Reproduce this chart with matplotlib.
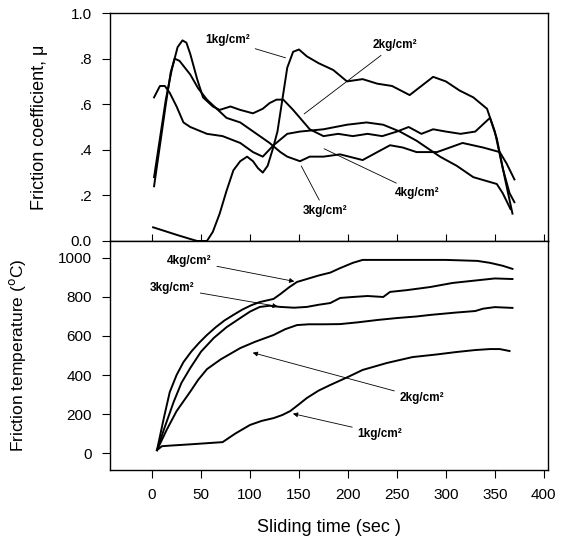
import matplotlib
matplotlib.use('Agg')
import matplotlib.pyplot as plt

plt.rcParams['font.family'] = ['Liberation Sans', 'DejaVu Sans']

# friction coefficient vs sliding time
t_mu_1 = [1, 12, 25, 38, 46, 56, 62, 69, 76, 83, 90, 97, 103, 108, 113, 118, 123, 128, 133, 138,
          144, 150, 158, 170, 185, 199, 215, 230, 245, 263, 275, 287, 300, 314, 328, 342, 350, 358, 365, 370]
mu_1 = [0.06, 0.045, 0.027, 0.01, 0.0, 0.0, 0.04, 0.12, 0.22, 0.31, 0.35, 0.37, 0.35, 0.32, 0.30, 0.33,
        0.40, 0.48, 0.62, 0.76, 0.83, 0.84, 0.81, 0.78, 0.75, 0.70, 0.71, 0.69, 0.68, 0.64, 0.68, 0.72,
        0.70, 0.66, 0.63, 0.58, 0.48, 0.32, 0.21, 0.17]

t_mu_2 = [2, 8, 14, 20, 26, 31, 35, 39, 46, 52, 62, 69, 80, 90, 103, 113, 120, 127, 134, 144, 151, 161,
          175, 190, 205, 220, 235, 250, 262, 275, 287, 300, 315, 330, 340, 345, 352, 360, 368]
mu_2 = [0.28, 0.45, 0.62, 0.75, 0.85, 0.88, 0.87, 0.82, 0.71, 0.63, 0.59, 0.575, 0.59, 0.575, 0.56,
        0.58, 0.605, 0.62, 0.62, 0.575, 0.54, 0.49, 0.46, 0.47, 0.46, 0.47, 0.46, 0.48, 0.50, 0.47,
        0.49, 0.48, 0.47, 0.48, 0.52, 0.54, 0.45, 0.28, 0.12]

t_mu_3 = [2, 8, 14, 19, 23, 28, 39, 47, 56, 66, 76, 90, 100, 110, 120, 131, 138, 151, 161, 175, 192,
          215, 230, 243, 256, 270, 291, 317, 338, 355, 362, 370]
mu_3 = [0.24, 0.42, 0.60, 0.74, 0.80, 0.79, 0.73, 0.67, 0.62, 0.58, 0.54, 0.52, 0.49, 0.46, 0.43,
        0.39, 0.37, 0.35, 0.37, 0.37, 0.38, 0.355, 0.39, 0.42, 0.41, 0.39, 0.39, 0.43, 0.41, 0.39,
        0.34, 0.27]

t_mu_4 = [2, 8, 13, 18, 25, 32, 39, 56, 72, 90, 103, 113, 124, 138, 151, 175, 199, 219, 236, 253,
          270, 294, 311, 328, 352, 358, 366]
mu_4 = [0.63, 0.68, 0.68, 0.65, 0.59, 0.52, 0.50, 0.47, 0.46, 0.43, 0.39, 0.37, 0.42, 0.47, 0.48,
        0.49, 0.51, 0.52, 0.51, 0.48, 0.44, 0.37, 0.33, 0.28, 0.25, 0.21, 0.14]

# friction temperature vs sliding time
t_T_1 = [5, 10, 18, 40, 72, 85, 100, 112, 124, 133, 141, 150, 158, 170, 182, 200, 215, 240, 266,
         290, 311, 330, 345, 355, 365]
T_1 = [15, 35, 38, 45, 56, 100, 144, 165, 179, 195, 215, 250, 282, 320, 349, 390, 426, 462, 492,
       505, 518, 528, 533, 533, 523]

t_T_2 = [5, 15, 25, 32, 39, 47, 56, 70, 90, 105, 124, 136, 148, 160, 175, 192, 210, 230, 250, 270,
         284, 310, 330, 338, 350, 368]
T_2 = [15, 120, 215, 265, 315, 375, 430, 480, 538, 570, 605, 635, 656, 660, 660, 661, 670, 682, 692,
       700, 708, 720, 728, 740, 748, 744]

t_T_3 = [5, 12, 22, 30, 39, 50, 63, 76, 90, 100, 110, 120, 131, 145, 158, 170, 182, 192, 205, 220,
         236, 243, 260, 284, 307, 335, 350, 368]
T_3 = [15, 120, 262, 360, 436, 520, 590, 645, 692, 725, 749, 755, 749, 745, 749, 760, 769, 795, 800,
       805, 800, 826, 835, 851, 872, 887, 895, 892]

t_T_4 = [5, 12, 18, 25, 32, 40, 48, 56, 65, 74, 83, 92, 101, 110, 117, 124, 131, 140, 148, 160, 170,
         182, 192, 205, 215, 230, 260, 300, 332, 345, 358, 368]
T_4 = [15, 180, 312, 400, 466, 520, 565, 605, 645, 680, 708, 735, 757, 774, 782, 790, 815, 850, 877,
       895, 910, 925, 948, 975, 990, 990, 990, 990, 985, 975, 960, 944]

x_ticks = [0, 50, 100, 150, 200, 250, 300, 350, 400]
mu_ticks = [0.0, 0.2, 0.4, 0.6, 0.8, 1.0]
mu_tick_labels = ['0.0', '.2', '.4', '.6', '.8', '1.0']
T_ticks = [0, 200, 400, 600, 800, 1000]

fig = plt.figure(figsize=(5.67, 5.36), dpi=100)
ax1 = fig.add_axes([0.194, 0.5504, 0.772, 0.4253])
ax2 = fig.add_axes([0.194, 0.1231, 0.772, 0.4273])

lw = 1.4
for t, m in [(t_mu_1, mu_1), (t_mu_2, mu_2), (t_mu_3, mu_3), (t_mu_4, mu_4)]:
    ax1.plot(t, m, '-', color='black', lw=lw)
for t, T in [(t_T_1, T_1), (t_T_2, T_2), (t_T_3, T_3), (t_T_4, T_4)]:
    ax2.plot(t, T, '-', color='black', lw=lw)

ax1.set_xlim(-43, 404)
ax1.set_ylim(0, 1.0)
ax1.set_xticks(x_ticks)
ax1.set_xticklabels([])
ax1.tick_params(axis='x', direction='in', length=5)
ax1.set_yticks(mu_ticks)
ax1.set_yticklabels(mu_tick_labels)
ax1.tick_params(axis='y', direction='out', length=6, pad=7, labelsize=11)
ax1.set_ylabel('Friction coefficient, μ', fontsize=13)
ax1.yaxis.set_label_coords(-0.142, 0.5)

ax2.set_xlim(-43, 404)
ax2.set_ylim(-87, 1087)
ax2.set_xticks(x_ticks)
ax2.set_yticks(T_ticks)
ax2.tick_params(direction='out', length=6, pad=7, labelsize=11)
ax2.set_ylabel(r'Friction temperature ($^{\mathrm{o}}$C)', fontsize=12.5)
ax2.yaxis.set_label_coords(-0.187, 0.5)
ax2.set_xlabel('Sliding time (sec )', fontsize=13, labelpad=12)

for ax in (ax1, ax2):
    for s in ax.spines.values():
        s.set_linewidth(1.0)

# leader lines on the friction coefficient panel
lab = dict(fontsize=8.5, fontweight='bold')
line = dict(arrowstyle='-', lw=0.6, color='black')
ax1.annotate('1kg/cm²', xy=(139, 0.80), xytext=(54, 0.88), arrowprops=line, ha='left', va='center', **lab)
ax1.annotate('2kg/cm²', xy=(153, 0.55), xytext=(225, 0.86), arrowprops=line, ha='left', va='center', **lab)
ax1.annotate('4kg/cm²', xy=(173, 0.41), xytext=(248, 0.21), arrowprops=line, ha='left', va='center', **lab)
ax1.annotate('3kg/cm²', xy=(151, 0.34), xytext=(154, 0.13), arrowprops=line, ha='left', va='center', **lab)

# arrows on the temperature panel
arr = dict(arrowstyle='-|>', lw=0.6, color='black', mutation_scale=7)
ax2.annotate('4kg/cm²', xy=(148, 877), xytext=(15, 985), arrowprops=arr, ha='left', va='center', **lab)
ax2.annotate('3kg/cm²', xy=(131, 749), xytext=(-2, 845), arrowprops=arr, ha='left', va='center', **lab)
ax2.annotate('2kg/cm²', xy=(100, 518), xytext=(253, 280), arrowprops=arr, ha='left', va='center', **lab)
ax2.annotate('1kg/cm²', xy=(141, 205), xytext=(210, 100), arrowprops=arr, ha='left', va='center', **lab)

fig.savefig('out.png', dpi=100)
